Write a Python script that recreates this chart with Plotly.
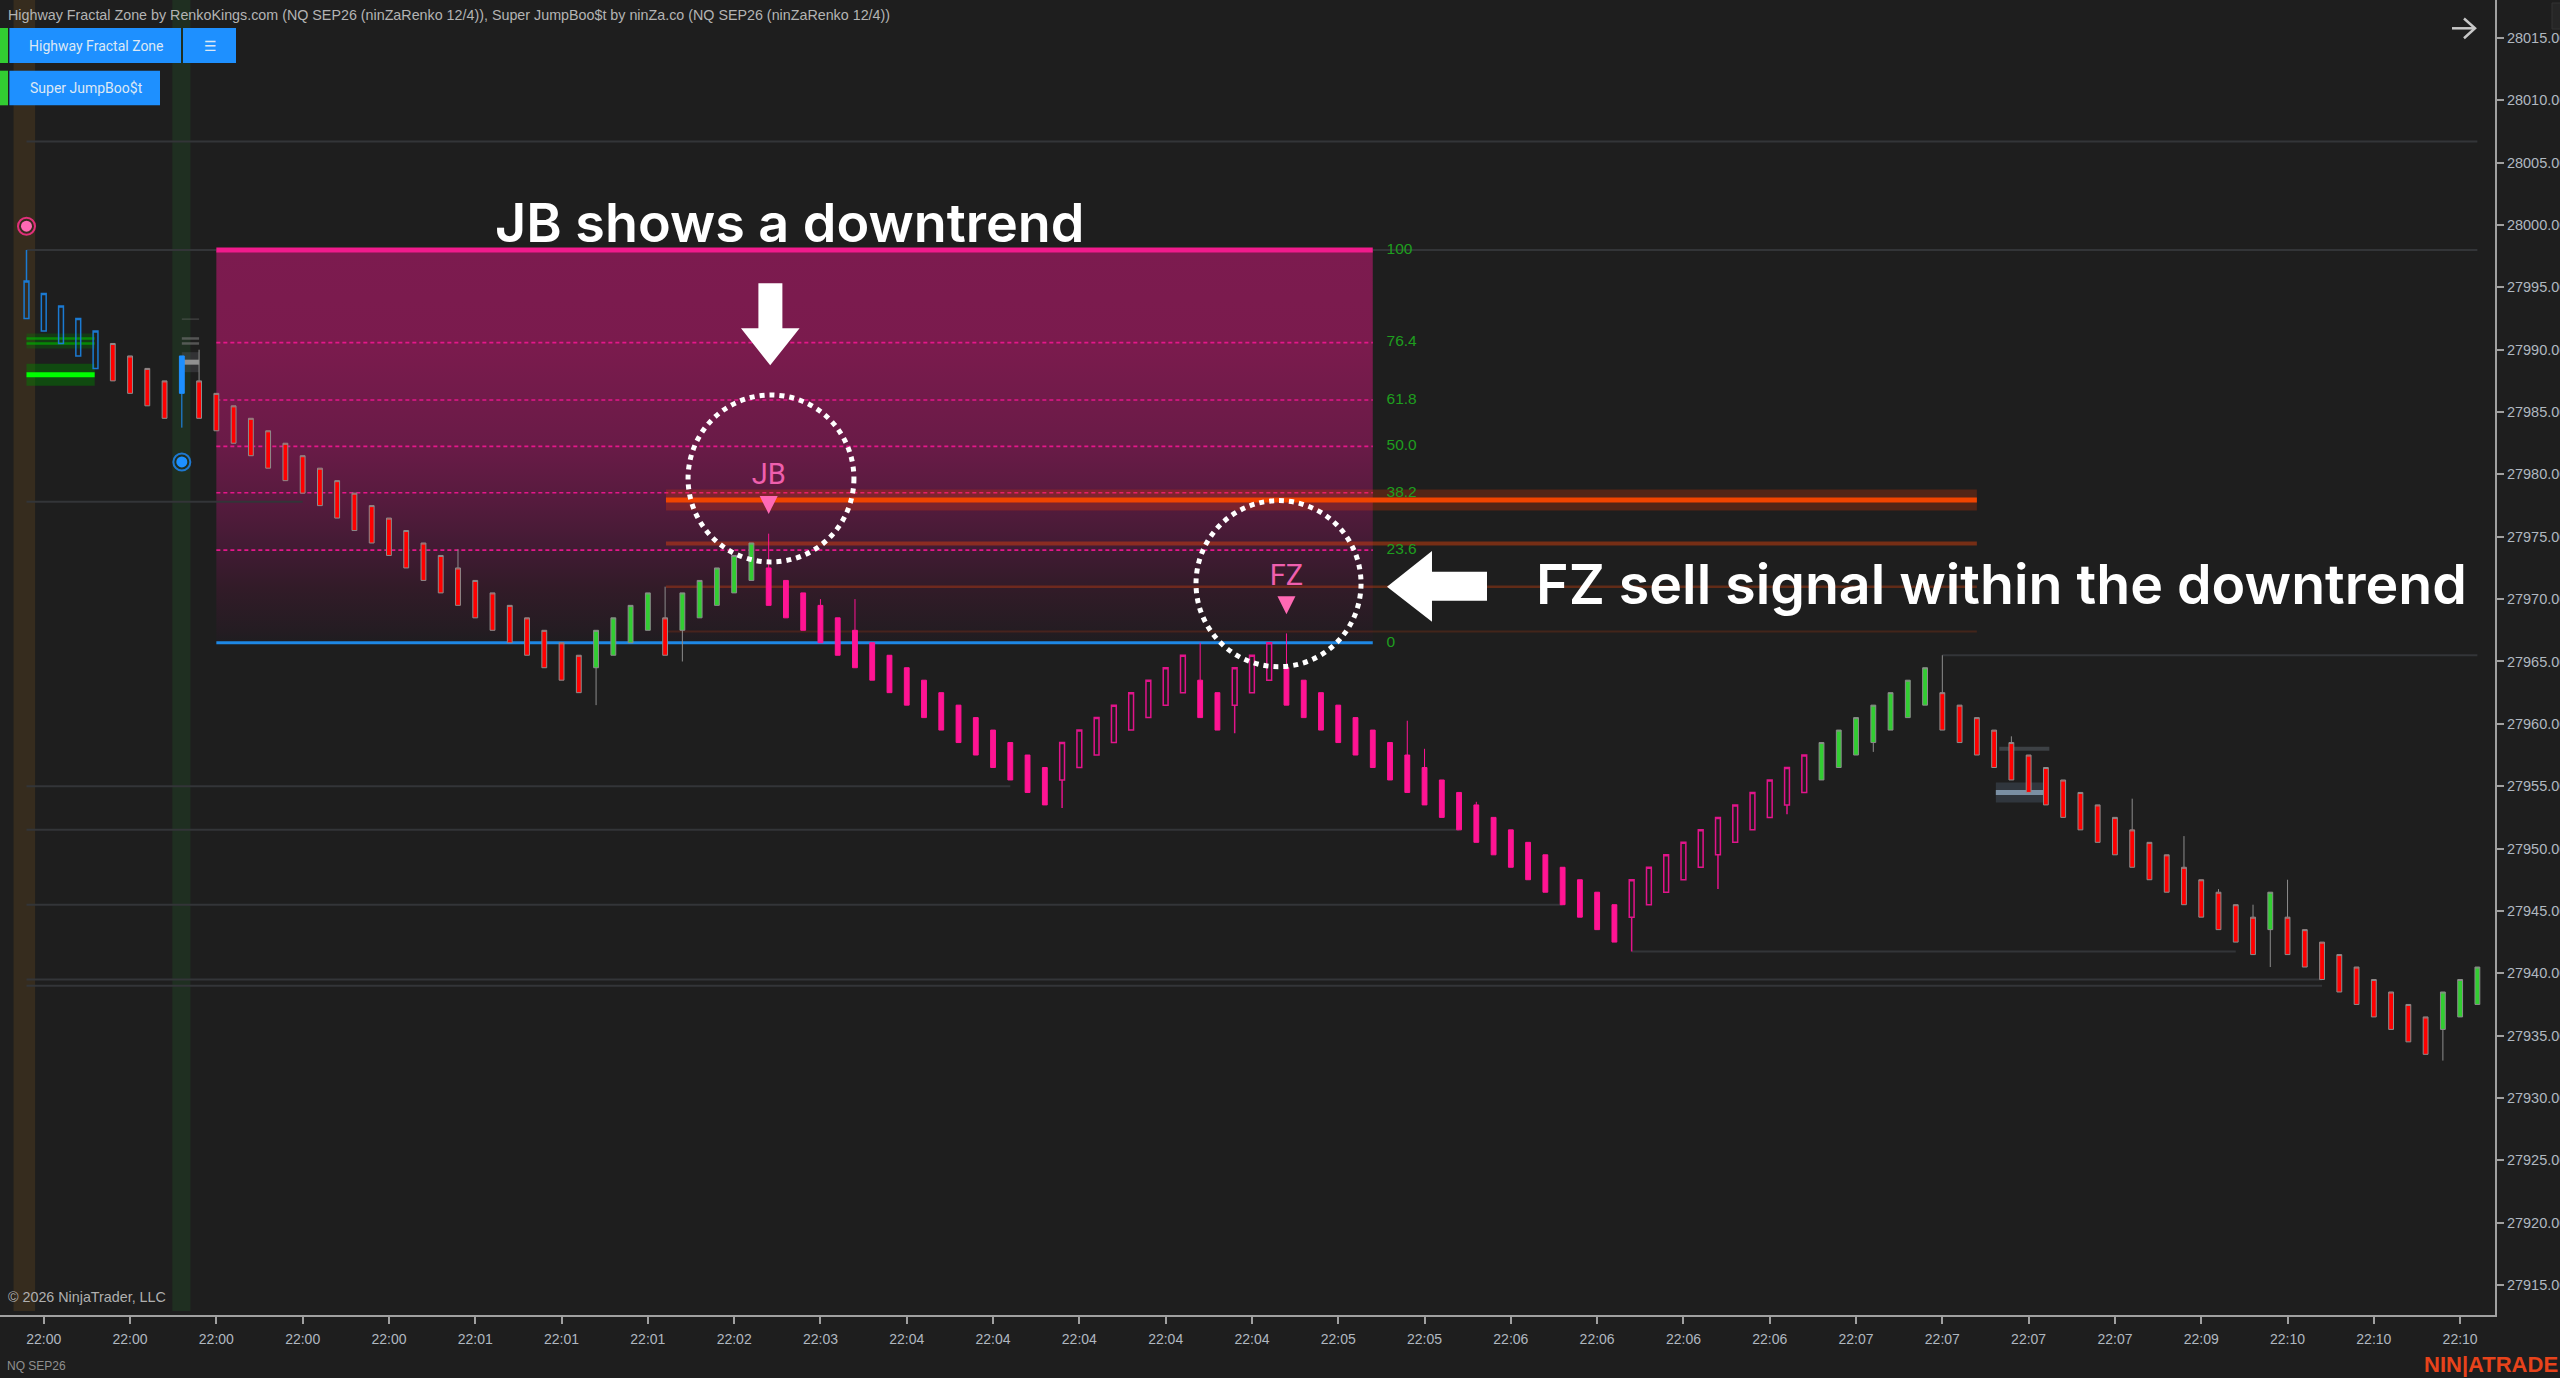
import plotly.graph_objects as go

# page size the chart was captured at, used for overlay placement
PAGE_W = 2560
PAGE_H = 1378
AXIS_RIGHT = 2495
AXIS_BOTTOM = 1315
X_RANGE = [-1.535, 143.02]
Y_RANGE = [27912.6, 28018.04]

body_top = [
    27995.5, 27994.5, 27993.5, 27992.5, 27991.5, 27990.5, 27989.5, 27988.5, 27987.5, 27989.5,
    27987.5, 27986.5, 27985.5, 27984.5, 27983.5, 27982.5, 27981.5, 27980.5, 27979.5, 27978.5,
    27977.5, 27976.5, 27975.5, 27974.5, 27973.5, 27972.5, 27971.5, 27970.5, 27969.5, 27968.5,
    27967.5, 27966.5, 27965.5, 27967.5, 27968.5, 27969.5, 27970.5, 27968.5, 27970.5, 27971.5,
    27972.5, 27973.5, 27974.5, 27972.5, 27971.5, 27970.5, 27969.5, 27968.5, 27967.5, 27966.5,
    27965.5, 27964.5, 27963.5, 27962.5, 27961.5, 27960.5, 27959.5, 27958.5, 27957.5, 27956.5,
    27958.5, 27959.5, 27960.5, 27961.5, 27962.5, 27963.5, 27964.5, 27965.5, 27963.5, 27962.5,
    27964.5, 27965.5, 27966.5, 27964.5, 27963.5, 27962.5, 27961.5, 27960.5, 27959.5, 27958.5,
    27957.5, 27956.5, 27955.5, 27954.5, 27953.5, 27952.5, 27951.5, 27950.5, 27949.5, 27948.5,
    27947.5, 27946.5, 27945.5, 27947.5, 27948.5, 27949.5, 27950.5, 27951.5, 27952.5, 27953.5,
    27954.5, 27955.5, 27956.5, 27957.5, 27958.5, 27959.5, 27960.5, 27961.5, 27962.5, 27963.5,
    27964.5, 27962.5, 27961.5, 27960.5, 27959.5, 27958.5, 27957.5, 27956.5, 27955.5, 27954.5,
    27953.5, 27952.5, 27951.5, 27950.5, 27949.5, 27948.5, 27947.5, 27946.5, 27945.5, 27944.5,
    27946.5, 27944.5, 27943.5, 27942.5, 27941.5, 27940.5, 27939.5, 27938.5, 27937.5, 27936.5,
    27938.5, 27939.5, 27940.5,
]
body_bottom = [
    27992.5, 27991.5, 27990.5, 27989.5, 27988.5, 27987.5, 27986.5, 27985.5, 27984.5, 27986.5,
    27984.5, 27983.5, 27982.5, 27981.5, 27980.5, 27979.5, 27978.5, 27977.5, 27976.5, 27975.5,
    27974.5, 27973.5, 27972.5, 27971.5, 27970.5, 27969.5, 27968.5, 27967.5, 27966.5, 27965.5,
    27964.5, 27963.5, 27962.5, 27964.5, 27965.5, 27966.5, 27967.5, 27965.5, 27967.5, 27968.5,
    27969.5, 27970.5, 27971.5, 27969.5, 27968.5, 27967.5, 27966.5, 27965.5, 27964.5, 27963.5,
    27962.5, 27961.5, 27960.5, 27959.5, 27958.5, 27957.5, 27956.5, 27955.5, 27954.5, 27953.5,
    27955.5, 27956.5, 27957.5, 27958.5, 27959.5, 27960.5, 27961.5, 27962.5, 27960.5, 27959.5,
    27961.5, 27962.5, 27963.5, 27961.5, 27960.5, 27959.5, 27958.5, 27957.5, 27956.5, 27955.5,
    27954.5, 27953.5, 27952.5, 27951.5, 27950.5, 27949.5, 27948.5, 27947.5, 27946.5, 27945.5,
    27944.5, 27943.5, 27942.5, 27944.5, 27945.5, 27946.5, 27947.5, 27948.5, 27949.5, 27950.5,
    27951.5, 27952.5, 27953.5, 27954.5, 27955.5, 27956.5, 27957.5, 27958.5, 27959.5, 27960.5,
    27961.5, 27959.5, 27958.5, 27957.5, 27956.5, 27955.5, 27954.5, 27953.5, 27952.5, 27951.5,
    27950.5, 27949.5, 27948.5, 27947.5, 27946.5, 27945.5, 27944.5, 27943.5, 27942.5, 27941.5,
    27943.5, 27941.5, 27940.5, 27939.5, 27938.5, 27937.5, 27936.5, 27935.5, 27934.5, 27933.5,
    27935.5, 27936.5, 27937.5,
]
bar_style = (
    ["blue_hollow"] * 5 + ["red"] * 4 + ["blue"] + ["red"] * 23 + ["green"] * 4 + ["red"]
    + ["green"] * 5 + ["pink"] * 17 + ["pink_hollow"] * 8 + ["pink"] * 2 + ["pink_hollow"] * 3
    + ["pink"] * 20 + ["pink_hollow"] * 11 + ["green"] * 7 + ["red"] * 19 + ["green"]
    + ["red"] * 9 + ["green"] * 3
)
wick_high_bars = [0, 10, 25, 37, 43, 46, 48, 68, 73, 80, 81, 84, 111, 115, 122, 125, 127, 129, 131]
wick_high_values = [27998, 27990, 27974, 27971, 27975.25, 27970, 27970, 27966.5, 27967.25, 27960.25,
                    27958, 27953.75, 27965.5, 27959, 27954, 27951, 27946.75, 27945.5, 27947.5]
wick_low_bars = [9, 33, 38, 60, 70, 93, 98, 102, 107, 130, 140]
wick_low_values = [27983.75, 27961.5, 27965, 27953.25, 27959.25, 27941.75, 27946.75, 27952.75,
                   27957.75, 27940.5, 27933]

tick_bars = list(range(1, 142, 5))
tick_labels = ["22:00", "22:00", "22:00", "22:00", "22:00", "22:01", "22:01", "22:01", "22:02", "22:03",
               "22:04", "22:04", "22:04", "22:04", "22:04", "22:05", "22:05", "22:06", "22:06", "22:06",
               "22:06", "22:07", "22:07", "22:07", "22:07", "22:09", "22:10", "22:10", "22:10"]

fib_labels = ["100", "76.4", "61.8", "50.0", "38.2", "23.6", "0"]
fib_prices = [27998, 27990.57, 27985.97, 27982.25, 27978.53, 27973.93, 27966.5]

zone_prices = [27977.95, 27974.47, 27971.0, 27967.4]
zone_widths = [5, 4, 2.5, 2]
zone_colors = ["#f04500", "rgba(240,70,10,0.42)", "rgba(240,70,10,0.32)", "rgba(240,70,10,0.18)"]

line_prices = [28006.7, 27998, 27977.8, 27955, 27951.5, 27945.5, 27941.75, 27939.5, 27939, 27965.5]
line_starts = [0, 0, 0, 0, 0, 0, 93, 0, 0, 111]
line_ends = [142, 142, 16, 57, 83, 89, 128, 133, 133, 142]

STYLES = {
    "red": dict(line="#8c8c8c", fill="#ff0000", width=1),
    "green": dict(line="#8c8c8c", fill="#32cd32", width=1),
    "pink": dict(line="#ff1493", fill="#ff1493", width=1),
    "pink_hollow": dict(line="#e0148a", fill="rgba(0,0,0,0)", width=1.5),
    "blue": dict(line="#1e90ff", fill="#1e90ff", width=1),
    "blue_hollow": dict(line="#1b7ad2", fill="rgba(0,0,0,0)", width=1.5),
}


def page_x(px):
    return px / PAGE_W


def page_y(py):
    return 1 - py / PAGE_H


def add_hline(fig, x0, x1, price, color, width, dash=None):
    fig.add_trace(go.Scatter(
        x=[x0, x1], y=[price, price], mode="lines",
        line=dict(color=color, width=width, dash=dash),
    ))


def add_candles(fig):
    highs = list(body_top)
    lows = list(body_bottom)
    for bar, value in zip(wick_high_bars, wick_high_values):
        highs[bar] = value
    for bar, value in zip(wick_low_bars, wick_low_values):
        lows[bar] = value

    for style, look in STYLES.items():
        idx = [i for i, s in enumerate(bar_style) if s == style]
        side = dict(line=dict(color=look["line"], width=look["width"]), fillcolor=look["fill"])
        fig.add_trace(go.Candlestick(
            x=idx,
            open=[body_bottom[i] for i in idx],
            close=[body_top[i] for i in idx],
            high=[highs[i] for i in idx],
            low=[lows[i] for i in idx],
            increasing=side,
            decreasing=side,
            xaxis="x2", yaxis="y2",
        ))


def poly_path(points, close=True):
    parts = [f"{page_x(x):.5f},{page_y(y):.5f}" for x, y in points]
    return "M" + " L".join(parts) + (" Z" if close else "")


fig = go.Figure()

# fib zone, drawn first so everything else lands on top
fig.add_trace(go.Scatter(
    x=[11, 78, 78, 11, 11],
    y=[fib_prices[0], fib_prices[0], fib_prices[-1], fib_prices[-1], fib_prices[0]],
    mode="lines", line=dict(width=0), fill="toself",
    fillgradient=dict(type="vertical", colorscale=[
        [0, "#1f1d20"], [0.03, "#241c22"], [0.14, "#321b28"], [0.237, "#411b33"],
        [0.38, "#591b3f"], [0.5, "#691b47"], [0.75, "#7a1b4d"], [1, "#7c1b4f"],
    ]),
))
for price in fib_prices[1:-1]:
    add_hline(fig, 11, 78, price, "#e5178a", 1.6, "4px,3px")

for start, end, price in zip(line_starts, line_ends, line_prices):
    add_hline(fig, start, end, price, "#333538", 2)

add_hline(fig, 37.05, 113, zone_prices[0], "rgba(240,60,0,0.25)", 21)
for price, width, color in zip(zone_prices, zone_widths, zone_colors):
    add_hline(fig, 37.05, 113, price, color, width)

add_hline(fig, 11, 78, fib_prices[0], "#f01b8c", 5)
add_hline(fig, 11, 78, fib_prices[-1], "#1e88e5", 3)

# small green and gray zones
add_hline(fig, 0, 3.95, 27988, "rgba(0,128,0,0.45)", 22)
add_hline(fig, 0, 3.95, 27988, "#00ff00", 5)
add_hline(fig, 0, 3.95, 27990.7, "rgba(0,128,0,0.3)", 15)
add_hline(fig, 0, 3.95, 27990.9, "rgba(0,170,0,0.7)", 2.5)
add_hline(fig, 0, 3.95, 27990.5, "rgba(0,170,0,0.7)", 2.5)
add_hline(fig, 9, 10, 27992.45, "rgba(120,120,120,0.35)", 1.5)
add_hline(fig, 9, 10, 27990.9, "rgba(120,120,120,0.6)", 2.5)
add_hline(fig, 9, 10, 27990.5, "rgba(120,120,120,0.6)", 2.5)
add_hline(fig, 9, 10, 27989, "rgba(100,100,110,0.3)", 20)
add_hline(fig, 9, 10, 27989, "#909090", 5)
add_hline(fig, 114.1, 117, 27954.5, "rgba(70,85,100,0.45)", 20)
add_hline(fig, 114.1, 117, 27954.5, "#7a8fa3", 5)
add_hline(fig, 114.3, 117.2, 27958, "#3d4145", 4)

# candles sit on an overlaid axis pair, otherwise scatter lines would cover them
add_candles(fig)

# signal dots
fig.add_trace(go.Scatter(x=[0], y=[27999.9], mode="markers", xaxis="x2", yaxis="y2",
                         marker=dict(symbol="circle-open", size=17, color="#e0307a", line=dict(width=2))))
fig.add_trace(go.Scatter(x=[0], y=[27999.9], mode="markers", xaxis="x2", yaxis="y2",
                         marker=dict(size=11, color="#ff69b4")))
fig.add_trace(go.Scatter(x=[9], y=[27981], mode="markers", xaxis="x2", yaxis="y2",
                         marker=dict(symbol="circle-open", size=17, color="#1e78d0", line=dict(width=2))))
fig.add_trace(go.Scatter(x=[9], y=[27981], mode="markers", xaxis="x2", yaxis="y2",
                         marker=dict(size=11, color="#1e90ff")))

# JB / FZ signals
fig.add_trace(go.Scatter(x=[43, 73], y=[27979.85, 27971.75], mode="text", text=["JB", "FZ"],
                         textposition="middle center", xaxis="x2", yaxis="y2",
                         textfont=dict(family="Roboto", size=29, color="#ef5fae")))

fig.add_trace(go.Scatter(x=[78.8] * len(fib_labels), y=fib_prices, mode="text", text=fib_labels,
                         textposition="middle right",
                         textfont=dict(family="Liberation Sans", size=15.5, color="#1e9e1e")))

shapes = [
    dict(type="rect", xref="x", yref="paper", x0=-0.75, x1=0.5, y0=page_y(1311), y1=1,
         fillcolor="#362c1e", line_width=0, layer="below"),
    dict(type="rect", xref="x", yref="paper", x0=8.45, x1=9.5, y0=page_y(1311), y1=1,
         fillcolor="#1f2f21", line_width=0, layer="below"),
    dict(type="circle", xref="x", yref="y", x0=38.33, x1=47.94, y0=27972.98, y1=27986.37,
         line=dict(color="white", width=5, dash="dot")),
    dict(type="circle", xref="x", yref="y", x0=67.76, x1=77.32, y0=27964.58, y1=27977.9,
         line=dict(color="white", width=5, dash="dot")),
    dict(type="path", xref="paper", yref="paper", fillcolor="white", line_width=0,
         path=poly_path([(758.4, 283.3), (782.4, 283.3), (782.4, 328.3), (799.6, 328.3),
                         (770.2, 365.3), (741, 328.3), (758.4, 328.3)])),
    dict(type="path", xref="paper", yref="paper", fillcolor="white", line_width=0,
         path=poly_path([(1387, 586.7), (1432, 551), (1432, 571.7), (1487, 571.7),
                         (1487, 600.7), (1432, 600.7), (1432, 621.7)])),
    # sell triangles, pixel sized so they keep the reference proportions
    dict(type="path", xref="x", yref="y", xsizemode="pixel", ysizemode="pixel",
         xanchor=43, yanchor=27977.55, path="M-9,9 L9,9 L0,-9 Z", fillcolor="#ff69b4", line_width=0),
    dict(type="path", xref="x", yref="y", xsizemode="pixel", ysizemode="pixel",
         xanchor=73, yanchor=27969.5, path="M-9,9 L9,9 L0,-9 Z", fillcolor="#ff69b4", line_width=0),
    # indicator buttons
    dict(type="rect", xref="paper", yref="paper", x0=0, x1=page_x(8), y0=page_y(63), y1=page_y(28),
         fillcolor="#32cd32", line_width=0),
    dict(type="rect", xref="paper", yref="paper", x0=page_x(9.4), x1=page_x(181), y0=page_y(63), y1=page_y(28),
         fillcolor="#1e90ff", line_width=0),
    dict(type="rect", xref="paper", yref="paper", x0=page_x(183), x1=page_x(236), y0=page_y(63), y1=page_y(28),
         fillcolor="#1e90ff", line_width=0),
    dict(type="rect", xref="paper", yref="paper", x0=0, x1=page_x(8), y0=page_y(105.3), y1=page_y(70.7),
         fillcolor="#32cd32", line_width=0),
    dict(type="rect", xref="paper", yref="paper", x0=page_x(9.4), x1=page_x(160), y0=page_y(105.3), y1=page_y(70.7),
         fillcolor="#1e90ff", line_width=0),
    dict(type="rect", xref="paper", yref="paper", x0=page_x(2552), x1=page_x(2562), y0=page_y(29), y1=page_y(3),
         fillcolor="#262626", line=dict(color="#333333", width=1)),
    # collapse arrow, top right of the chart
    dict(type="path", xref="paper", yref="paper", line=dict(color="#c8c8c8", width=2.5),
         path=poly_path([(2452, 28.3), (2475, 28.3)], close=False)),
    dict(type="path", xref="paper", yref="paper", line=dict(color="#c8c8c8", width=2.5),
         path=poly_path([(2464, 18.5), (2475, 28.3), (2464, 38.2)], close=False)),
]


def note(text, px, py, size, color, family="Liberation Sans", xanchor="left", weight=None):
    return dict(
        text=text,
        xref="paper", yref="paper", x=page_x(px), y=page_y(py),
        xanchor=xanchor, yanchor="middle", showarrow=False,
        font=dict(family=family, size=size, color=color, weight=weight),
    )


annotations = [
    note("Highway Fractal Zone by RenkoKings.com (NQ SEP26 (ninZaRenko 12/4)), Super JumpBoo$t by ninZa.co "
         "(NQ SEP26 (ninZaRenko 12/4))", 6, 15, 14.3, "#b4b4b4"),
    note("Highway Fractal Zone", 96, 46, 14, "#dce8f5", family="Roboto", xanchor="center"),
    note("☰", 210.6, 46, 14, "#dce8f5", family="DejaVu Sans", xanchor="center"),
    note("Super JumpBoo$t", 86, 88, 14, "#dce8f5", family="Roboto", xanchor="center"),
    note("JB shows a downtrend", 492.5, 222.5, 53.9, "white", family="Inter", weight=600),
    note("FZ sell signal within the downtrend", 1534, 584, 55.5, "white", family="Inter", weight=600),
    note("© 2026 NinjaTrader, LLC", 6, 1297, 14.3, "#b0b0b0"),
    note("NQ SEP26", 5, 1366, 12, "#909090"),
    note("NIN|ATRADE", 2422, 1364, 22, "#e8431b", weight=700),
]

fig.update_layout(
    width=PAGE_W,
    height=PAGE_H,
    margin=dict(l=0, r=0, t=0, b=0, autoexpand=False),
    paper_bgcolor="#1e1e1e",
    plot_bgcolor="#1e1e1e",
    showlegend=False,
    boxmode="overlay",
    boxgap=0.6,
    shapes=shapes,
    annotations=annotations,
    font=dict(family="Liberation Sans", size=14, color="#b0b8c0"),
    xaxis=dict(
        domain=[0, AXIS_RIGHT / PAGE_W],
        range=X_RANGE,
        tickmode="array", tickvals=tick_bars, ticktext=tick_labels,
        ticks="outside", ticklen=7, tickwidth=2, tickcolor="#a0a0a0", ticklabelstandoff=3,
        showline=True, linecolor="#a0a0a0", linewidth=2,
        showgrid=False, zeroline=False,
    ),
    yaxis=dict(
        domain=[1 - AXIS_BOTTOM / PAGE_H, 1],
        range=Y_RANGE,
        side="right", dtick=5, tickformat=".2f",
        ticks="outside", ticklen=7, tickwidth=2, tickcolor="#a0a0a0",
        tickfont=dict(size=14.5),
        showline=True, linecolor="#a0a0a0", linewidth=2,
        showgrid=False, zeroline=False,
    ),
    xaxis2=dict(
        domain=[0, AXIS_RIGHT / PAGE_W], range=X_RANGE, overlaying="x", anchor="y2",
        visible=False, rangeslider=dict(visible=False),
    ),
    yaxis2=dict(
        domain=[1 - AXIS_BOTTOM / PAGE_H, 1], range=Y_RANGE, overlaying="y", anchor="x2",
        side="right", visible=False,
    ),
)

# the reference fills the window edge to edge, so drop the browser's body margin
fig.write_html(
    "out.html",
    config={"displayModeBar": False},
    post_script="document.body.style.margin='0';document.body.style.overflow='hidden';",
)
